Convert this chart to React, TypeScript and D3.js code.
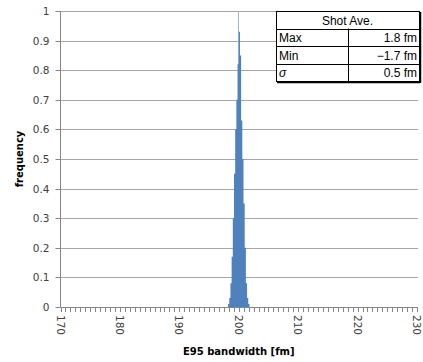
import React from "react";
import * as d3 from "d3";

const binStarts = [198.2, 198.4, 198.6, 198.8, 199.0, 199.2, 199.4, 199.6, 199.8, 200.0, 200.2, 200.4, 200.6, 200.8, 201.0, 201.2, 201.4, 201.6];
const freqs = [0.01, 0.03, 0.08, 0.17, 0.3, 0.45, 0.6, 0.7, 0.82, 0.93, 0.85, 0.63, 0.5, 0.35, 0.2, 0.08, 0.03, 0.01];
const binWidth = 0.2;
const spikeX = 199.95;
const spikeValue = 1.0;
const xTickLabels = [170, 180, 190, 200, 210, 220, 230];
const yTickLabels = [0, 0.1, 0.2, 0.3, 0.4, 0.5, 0.6, 0.7, 0.8, 0.9, 1];
const tableHeader = "Shot Ave.";
const tableRows = [
  ["Max", "1.8 fm"],
  ["Min", "\u22121.7 fm"],
  ["\u03c3", "0.5 fm"],
];

export default function App() {
  const W = 423, H = 362;
  const left = 60.5, right = 417, top = 11, bottom = 307;
  const x = d3.scaleLinear().domain([170, 230]).range([left, right]);
  const y = d3.scaleLinear().domain([0, 1]).range([bottom, top]);
  const minor = d3.range(0, 73).map((i) => 170 + (i * 60) / 72);
  const font = "'DejaVu Sans', Verdana, sans-serif";
  const tx0 = 276, tx1 = 419, tcol = 348, ty0 = 11, rowH = 17.5;
  const pts: [number, number][] = binStarts.map((b, i) => [b, freqs[i]]);
  pts.push([binStarts[binStarts.length - 1] + binWidth, 0]);
  const area = d3
    .area<[number, number]>()
    .x((d) => x(d[0]))
    .y0(y(0))
    .y1((d) => y(d[1]))
    .curve(d3.curveStepAfter);
  return (
    <svg width={W} height={H} style={{ position: "absolute", left: 0, top: 0, background: "#fff" }}>
      {yTickLabels.map((v) => (
        <g key={v}>
          {v > 0 && <line x1={left} x2={right + 1} y1={Math.round(y(v)) + 0.5} y2={Math.round(y(v)) + 0.5} stroke="#a6a6a6" strokeWidth={1} />}
          <line x1={left - 5} x2={left} y1={Math.round(y(v)) + 0.5} y2={Math.round(y(v)) + 0.5} stroke="#868686" />
          <text x={left - 11} y={y(v) + 4} textAnchor="end" fontSize={10.5} fill="#404040" fontFamily={font}>{v}</text>
        </g>
      ))}
      <line x1={x(spikeX)} x2={x(spikeX)} y1={y(spikeValue)} y2={y(0)} stroke="#9fb3cc" strokeWidth={1} />
      <path d={area(pts) || ""} fill="#4f81bd" />
      <line x1={left} x2={left} y1={top} y2={bottom} stroke="#868686" />
      <line x1={left} x2={right + 1} y1={bottom + 0.5} y2={bottom + 0.5} stroke="#868686" />
      {minor.map((m, i) => (
        <line key={i} x1={Math.round(x(m)) + 0.5} x2={Math.round(x(m)) + 0.5} y1={bottom} y2={bottom + 5} stroke="#868686" />
      ))}
      {xTickLabels.map((v) => (
        <text key={v} transform={`translate(${x(v) - 4},${bottom + 8}) rotate(90)`} fontSize={10.5} fill="#404040" fontFamily={font}>{v}</text>
      ))}
      <text x={(left + right) / 2} y={355} textAnchor="middle" fontSize={10} fontWeight="bold" fill="#000" fontFamily={font}>E95 bandwidth [fm]</text>
      <text transform={`translate(23,${(top + bottom) / 2}) rotate(-90)`} textAnchor="middle" fontSize={10} fontWeight="bold" fill="#000" fontFamily={font}>frequency</text>
      <g fontFamily="'Liberation Sans', Arial, sans-serif" fontSize={12} fill="#000">
        <rect x={tx0 + 0.5} y={ty0 + 0.5} width={tx1 - tx0} height={rowH * 4} fill="#fff" stroke="#000" />
        <line x1={tx0 + 1} x2={tx1 + 1} y1={ty0 + rowH * 4 + 1.5} y2={ty0 + rowH * 4 + 1.5} stroke="#000" strokeWidth={1.5} />
        <line x1={tx1 + 1.5} x2={tx1 + 1.5} y1={ty0 + 1} y2={ty0 + rowH * 4 + 2} stroke="#000" strokeWidth={1.5} />
        <text x={(tx0 + tx1) / 2} y={ty0 + 13.5} textAnchor="middle">{tableHeader}</text>
        {tableRows.map((r, i) => {
          const ry = ty0 + rowH * (i + 1);
          return (
            <g key={i}>
              <line x1={tx0} x2={tx1} y1={Math.round(ry) + 0.5} y2={Math.round(ry) + 0.5} stroke="#000" />
              <text x={tx0 + 3} y={ry + 13.5} fontStyle={i === 2 ? "italic" : "normal"}>{r[0]}</text>
              <text x={tx1 - 2} y={ry + 13.5} textAnchor="end">{r[1]}</text>
            </g>
          );
        })}
        <line x1={tcol + 0.5} x2={tcol + 0.5} y1={ty0 + rowH} y2={ty0 + rowH * 4} stroke="#000" />
      </g>
    </svg>
  );
}
